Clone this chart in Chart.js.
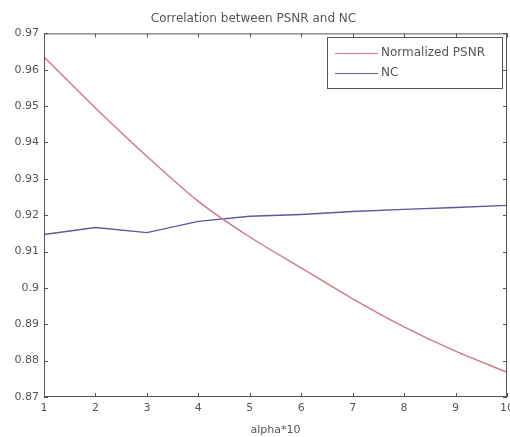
<!DOCTYPE html>
<html>
<head>
<meta charset="utf-8">
<script src="https://cdn.jsdelivr.net/npm/chart.js@4/dist/chart.umd.min.js"></script>
<style>
  html, body { margin: 0; padding: 0; background: #fff; }
  #wrap { width: 510px; height: 437px; }
</style>
</head>
<body>
<div id="wrap"><canvas id="chart" width="510" height="437"></canvas></div>
<script>
// valeurs
const alphaSteps = [1, 2, 3, 4, 5, 6, 7, 8, 9, 10];
const psnrNorm = [0.9635, 0.9495, 0.9362, 0.9238, 0.9140, 0.9055, 0.8970, 0.8893, 0.8826, 0.8768];
const ncValues = [0.9147, 0.9166, 0.9152, 0.9183, 0.9197, 0.9202, 0.9210, 0.9216, 0.9221, 0.9227];
const yTicks = [0.87, 0.88, 0.89, 0.9, 0.91, 0.92, 0.93, 0.94, 0.95, 0.96, 0.97];
const seriesNames = ['Normalized PSNR', 'NC'];

const axisColor = '#555';
const textColor = '#555';
const font = { family: 'DejaVu Sans, sans-serif', size: 11 };

// cadre + graduations vers l'intérieur (style matlab)
const framePlugin = {
    id: 'frame',
    afterDatasetsDraw(chart) {
        const { ctx, chartArea: a, scales } = chart;
        ctx.save();
        ctx.strokeStyle = axisColor;
        ctx.lineWidth = 1;
        ctx.strokeRect(a.left + 0.5, a.top + 0.5, a.right - a.left - 1, a.bottom - a.top - 1);
        ctx.beginPath();
        alphaSteps.forEach(v => {
            const x = Math.round(scales.x.getPixelForValue(v)) + 0.5;
            ctx.moveTo(x, a.bottom); ctx.lineTo(x, a.bottom - 4);
            ctx.moveTo(x, a.top); ctx.lineTo(x, a.top + 4);
        });
        yTicks.forEach(v => {
            const y = Math.round(scales.y.getPixelForValue(v)) + 0.5;
            ctx.moveTo(a.left, y); ctx.lineTo(a.left + 4, y);
            ctx.moveTo(a.right, y); ctx.lineTo(a.right - 4, y);
        });
        ctx.stroke();

        // légende dans le coin haut droit
        const bx = 327, by = 37, bw = 175, bh = 51;
        ctx.fillStyle = '#fff';
        ctx.fillRect(bx, by, bw, bh);
        ctx.strokeRect(bx + 0.5, by + 0.5, bw, bh);
        ctx.font = '12px ' + font.family;
        ctx.textBaseline = 'middle';
        chart.data.datasets.forEach((ds, i) => {
            const ly = by + 16 + i * 20;
            ctx.strokeStyle = ds.borderColor;
            ctx.beginPath();
            ctx.moveTo(335, ly + 0.5); ctx.lineTo(378, ly + 0.5);
            ctx.stroke();
            ctx.fillStyle = textColor;
            ctx.fillText(ds.label, 381, ly);
        });
        ctx.restore();
    }
};

new Chart(document.getElementById('chart'), {
    type: 'line',
    data: {
        datasets: [
            {
                label: seriesNames[0],
                data: alphaSteps.map((x, i) => ({ x, y: psnrNorm[i] })),
                borderColor: '#d27786',
                borderWidth: 1.4,
                pointRadius: 0,
                tension: 0.3
            },
            {
                label: seriesNames[1],
                data: alphaSteps.map((x, i) => ({ x, y: ncValues[i] })),
                borderColor: '#5a5a9e',
                borderWidth: 1.4,
                pointRadius: 0,
                tension: 0
            }
        ]
    },
    options: {
        responsive: false,
        animation: false,
        layout: { padding: { left: 0, right: 3, top: 0, bottom: 0 } },
        plugins: {
            legend: { display: false },
            tooltip: { enabled: false },
            title: {
                display: true,
                text: 'Correlation between PSNR and NC',
                color: textColor,
                font: { family: font.family, size: 12, weight: 'normal' },
                padding: { top: 12, bottom: 7 }
            }
        },
        scales: {
            x: {
                type: 'linear',
                min: 1,
                max: 10,
                afterBuildTicks: s => { s.ticks = alphaSteps.map(v => ({ value: v })); },
                afterFit: s => { s.paddingLeft = 0; s.paddingRight = 0; s.height = 40; },
                grid: { display: false, drawTicks: false },
                border: { display: false },
                ticks: { color: textColor, font, padding: 5, maxRotation: 0 },
                title: {
                    display: true,
                    text: 'alpha*10',
                    color: textColor,
                    font,
                    padding: { top: 2, bottom: 0 }
                }
            },
            y: {
                min: 0.87,
                max: 0.97,
                afterBuildTicks: s => { s.ticks = yTicks.map(v => ({ value: v })); },
                afterFit: s => { s.width = 44; s.paddingTop = 0; s.paddingBottom = 0; },
                grid: { display: false, drawTicks: false },
                border: { display: false },
                ticks: {
                    color: textColor,
                    font,
                    padding: 5,
                    callback: v => String(Math.round(v * 100) / 100)
                }
            }
        }
    },
    plugins: [framePlugin]
});
</script>
</body>
</html>
